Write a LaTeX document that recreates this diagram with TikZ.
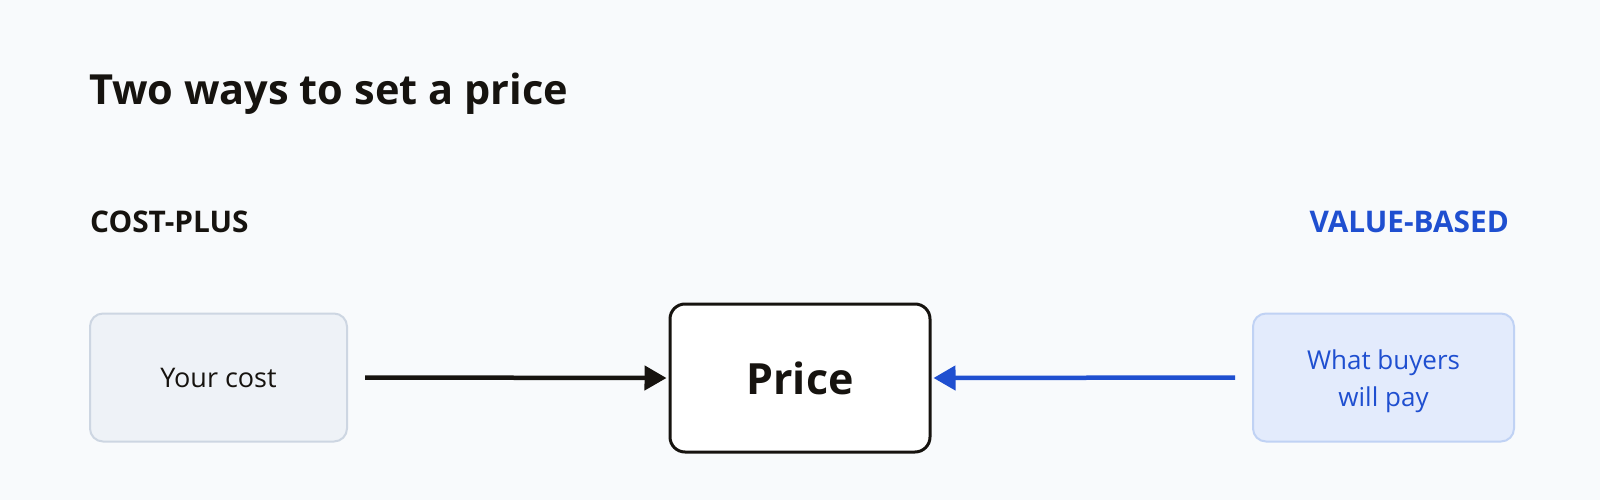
\documentclass[tikz,border=0pt]{standalone}
\usepackage{fontspec}
\setmainfont{Open Sans}
\usetikzlibrary{arrows.meta}
\definecolor{bg}{HTML}{F8FAFC}
\definecolor{ink}{HTML}{16130F}
\definecolor{accent}{HTML}{1F4FD0}
\definecolor{greyfill}{HTML}{EEF2F7}
\definecolor{greyline}{HTML}{CDD6E2}
\definecolor{bluefill}{HTML}{E3EBFC}
\definecolor{blueline}{HTML}{C0D2F4}
\tikzset{
  sidebox/.style={rounded corners=13pt, line width=2pt, minimum height=128pt, align=center, inner sep=0pt},
  costbox/.style={sidebox, minimum width=257pt, fill=greyfill, draw=greyline, text=ink, font=\fontsize{27}{32}\selectfont},
  valuebox/.style={sidebox, minimum width=261pt, fill=bluefill, draw=blueline},
  valuetext/.style={align=center, inner sep=0pt, text=accent, font=\fontsize{26}{37}\selectfont},
  pricebox/.style={rounded corners=15pt, line width=3pt, draw=ink, fill=white, minimum width=260pt, minimum height=148pt, inner sep=0pt, text=ink, font=\bfseries\fontsize{43}{48}\selectfont},
  heading/.style={font=\bfseries\fontsize{29.8}{34}\selectfont, inner sep=0pt},
  connector/.style={line width=4.5pt, -{Triangle[length=22pt, width=24pt]}},
}
\begin{document}
\begin{tikzpicture}[x=1pt, y=-1pt]
\fill[bg] (0,0) rectangle (1600,500);
\useasboundingbox (0,0) rectangle (1600,500);
\node[anchor=base west, inner sep=0pt, text=ink, font=\bfseries\fontsize{41.5}{48}\selectfont] (title) at (89,105) {Two ways to set a price};
\node[heading, anchor=base west, text=ink] (costlabel) at (90,232) {COST-PLUS};
\node[heading, anchor=base east, text=accent] (valuelabel) at (1509,232) {VALUE-BASED};
\node[costbox] (cost) at (218.5,377.5) {Your cost};
\node[pricebox] (price) at (800,378) {Price};
\node[valuebox] (value) at (1383.5,377.5) {};
\node[valuetext] (valuetext) at ([yshift=-4pt]value.center) {What buyers\\will pay};
\draw[connector, draw=ink, fill=ink] ([xshift=17pt]cost.east) -- ([xshift=-2pt]price.west);
\draw[connector, draw=accent, fill=accent] ([xshift=-17pt]value.west) -- ([xshift=2pt]price.east);
\end{tikzpicture}
\end{document}
